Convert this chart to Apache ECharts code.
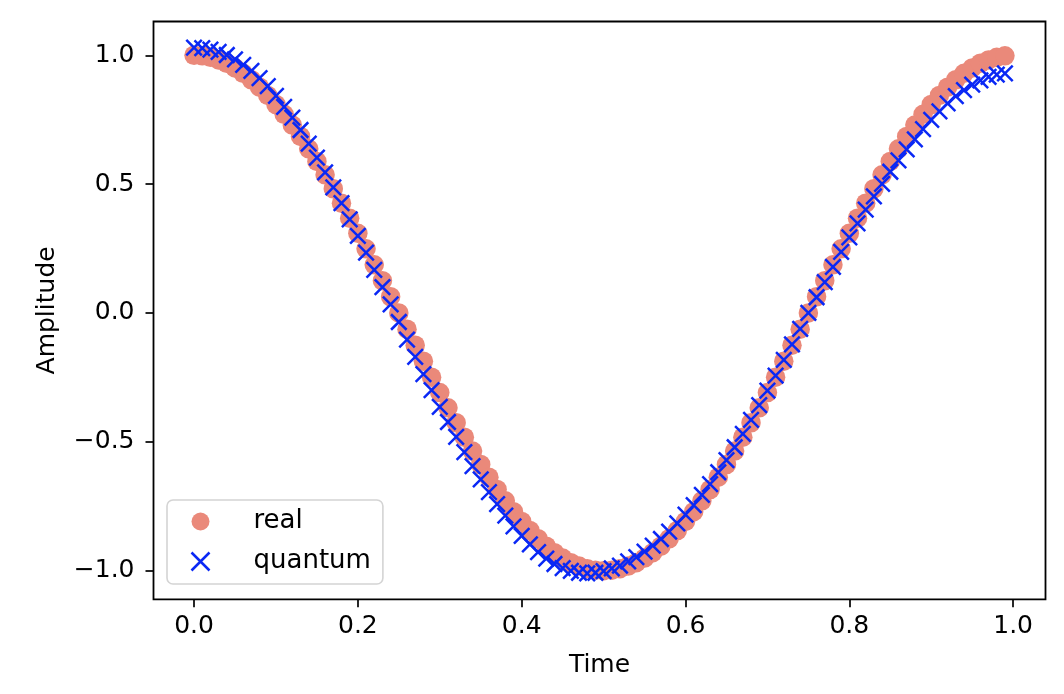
<!DOCTYPE html>
<html>
<head>
<meta charset="utf-8">
<script src="https://cdn.jsdelivr.net/npm/echarts@6/dist/echarts.min.js"></script>
<style>
  html, body { margin: 0; padding: 0; background: #fff; }
  #main { width: 1064px; height: 694px; }
</style>
</head>
<body>
<div id="main"></div>
<script>
// time samples, 0.00 .. 0.99
var times = [];
for (var i = 0; i < 100; i++) times.push(+(i / 100).toFixed(2));

// exact signal
var realVals = [
  1.000, 0.998, 0.992, 0.982, 0.969, 0.951, 0.930, 0.905, 0.876, 0.844,
  0.809, 0.771, 0.729, 0.685, 0.637, 0.588, 0.536, 0.482, 0.426, 0.368,
  0.309, 0.249, 0.187, 0.125, 0.063, 0.000, -0.063, -0.125, -0.187, -0.249,
  -0.309, -0.368, -0.426, -0.482, -0.536, -0.588, -0.637, -0.685, -0.729, -0.771,
  -0.809, -0.844, -0.876, -0.905, -0.930, -0.951, -0.969, -0.982, -0.992, -0.998,
  -1.000, -0.998, -0.992, -0.982, -0.969, -0.951, -0.930, -0.905, -0.876, -0.844,
  -0.809, -0.771, -0.729, -0.685, -0.637, -0.588, -0.536, -0.482, -0.426, -0.368,
  -0.309, -0.249, -0.187, -0.125, -0.063, 0.000, 0.063, 0.125, 0.187, 0.249,
  0.309, 0.368, 0.426, 0.482, 0.536, 0.588, 0.637, 0.685, 0.729, 0.771,
  0.809, 0.844, 0.876, 0.905, 0.930, 0.951, 0.969, 0.982, 0.992, 0.998
];

// simulated signal (read off the blue crosses)
var quantumVals = [
  1.030, 1.028, 1.022, 1.013, 1.001, 0.984, 0.963, 0.939, 0.911, 0.880,
  0.842, 0.800, 0.758, 0.710, 0.657, 0.603, 0.546, 0.487, 0.426, 0.363,
  0.299, 0.234, 0.167, 0.100, 0.033, -0.035, -0.103, -0.170, -0.237, -0.299,
  -0.364, -0.423, -0.481, -0.540, -0.594, -0.646, -0.695, -0.742, -0.786, -0.828,
  -0.865, -0.898, -0.928, -0.953, -0.974, -0.990, -1.001, -1.008, -1.010, -1.008,
  -1.002, -0.991, -0.980, -0.964, -0.947, -0.926, -0.903, -0.877, -0.848, -0.816,
  -0.782, -0.746, -0.706, -0.664, -0.618, -0.571, -0.521, -0.469, -0.415, -0.358,
  -0.301, -0.243, -0.182, -0.122, -0.062, 0.000, 0.061, 0.120, 0.179, 0.237,
  0.293, 0.348, 0.401, 0.452, 0.501, 0.548, 0.592, 0.635, 0.674, 0.713,
  0.749, 0.782, 0.813, 0.841, 0.865, 0.886, 0.903, 0.916, 0.925, 0.930
];

var xTicks = [0.0, 0.2, 0.4, 0.6, 0.8, 1.0];
var yTicks = [-1.0, -0.5, 0.0, 0.5, 1.0];

var realColor = '#EA897A';
var quantumColor = '#0a28f5';
var crossPath = 'path://M0,0L10,10M10,0L0,10';
var font = 'DejaVu Sans';
var fs = 25;

function pairs(xs, ys) {
  var out = [];
  for (var i = 0; i < xs.length; i++) out.push([xs[i], ys[i]]);
  return out;
}

function fmt(v) {
  var s = Math.abs(v).toFixed(1);
  return v < 0 ? '\u2212' + s : s;
}

var myChart = echarts.init(document.getElementById('main'), null, { renderer: 'canvas' });

var option = {
  backgroundColor: '#fff',
  animation: false,
  textStyle: { fontFamily: font, color: '#000' },
  grid: {
    left: 153.5, right: 18.5, top: 21.5, bottom: 94.7,
    show: true, borderColor: '#000', borderWidth: 1.8, backgroundColor: 'transparent'
  },
  legend: {
    orient: 'vertical',
    left: 167, top: 500,
    padding: [7, 12, 8, 22],
    itemWidth: 32, itemHeight: 18, itemGap: 11,
    backgroundColor: 'rgba(255,255,255,0.8)',
    borderColor: '#d4d4d4', borderWidth: 1.6, borderRadius: 6,
    textStyle: { fontFamily: font, fontSize: 26, color: '#000', lineHeight: 29, padding: [0, 0, 0, 32] },
    data: [
      { name: 'real', icon: 'circle', itemStyle: { color: realColor } },
      { name: 'quantum', icon: crossPath,
        itemStyle: { color: 'none', borderColor: quantumColor, borderWidth: 2.5 } }
    ]
  },
  xAxis: {
    type: 'value',
    min: -0.0495, max: 1.0395,
    name: 'Time', nameLocation: 'middle', nameGap: 54,
    nameTextStyle: { fontFamily: font, fontSize: fs, color: '#000' },
    splitLine: { show: false },
    axisLine: { show: false, onZero: false },
    axisTick: { show: true, length: 8, lineStyle: { color: '#000', width: 1.7 }, customValues: xTicks },
    axisLabel: { margin: 15, fontSize: fs, color: '#000', fontFamily: font, customValues: xTicks, formatter: fmt }
  },
  yAxis: {
    type: 'value',
    min: -1.111, max: 1.131,
    name: 'Amplitude', nameLocation: 'middle', nameGap: 94, nameRotate: 90,
    nameTextStyle: { fontFamily: font, fontSize: fs, color: '#000' },
    splitLine: { show: false },
    axisLine: { show: false, onZero: false },
    axisTick: { show: true, length: 8, lineStyle: { color: '#000', width: 1.7 }, customValues: yTicks },
    axisLabel: { margin: 19, fontSize: fs, color: '#000', fontFamily: font, customValues: yTicks, formatter: fmt }
  },
  series: [
    {
      name: 'real',
      type: 'scatter',
      symbol: 'circle',
      symbolSize: 19.5,
      itemStyle: { color: realColor, opacity: 1 },
      data: pairs(times, realVals)
    },
    {
      name: 'quantum',
      type: 'scatter',
      symbol: crossPath,
      symbolSize: 15.5,
      itemStyle: { color: 'none', borderColor: quantumColor, borderWidth: 2.5, opacity: 1 },
      data: pairs(times, quantumVals)
    }
  ]
};

myChart.setOption(option);
</script>
</body>
</html>
